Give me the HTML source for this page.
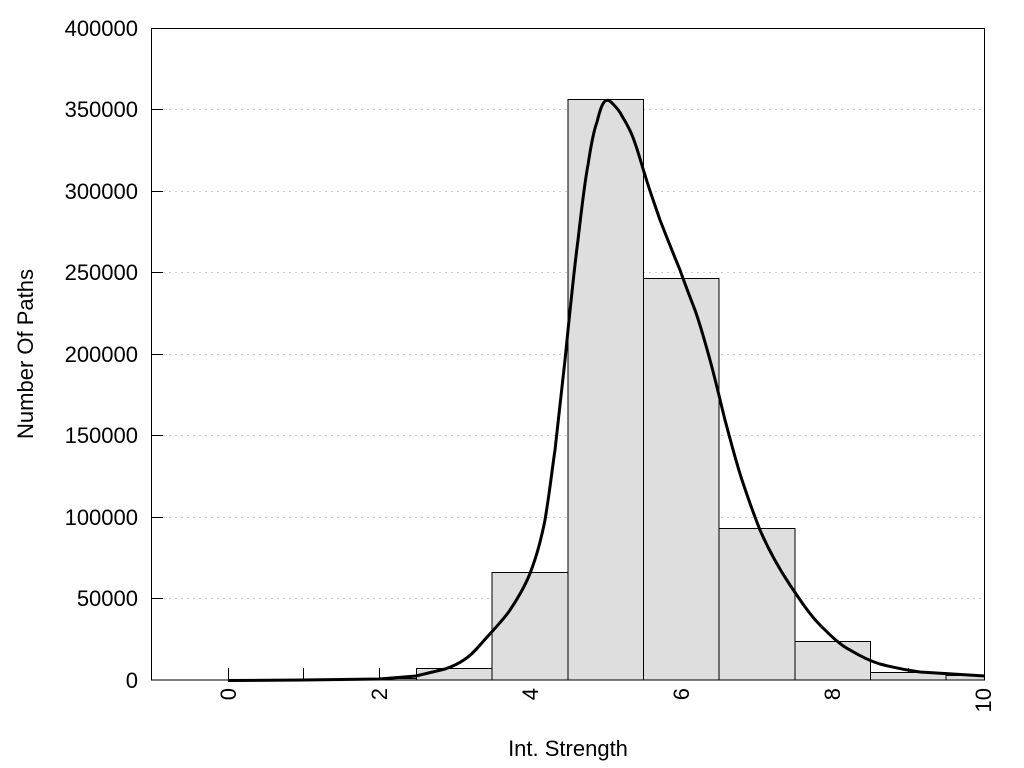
<!DOCTYPE html>
<html><head><meta charset="utf-8"><style>body{margin:0;background:#fff}svg{display:block}text{font-family:"Liberation Sans",Arial,sans-serif;font-size:22px;fill:#000}</style></head>
<body>
<svg width="1024" height="768" viewBox="0 0 1024 768">
<rect width="1024" height="768" fill="#fff"/>
<g stroke="#ccc" stroke-dasharray="2,4" stroke-width="1">
<line x1="163" y1="598.5" x2="985" y2="598.5"/>
<line x1="163" y1="517.5" x2="985" y2="517.5"/>
<line x1="163" y1="435.5" x2="985" y2="435.5"/>
<line x1="163" y1="354.5" x2="985" y2="354.5"/>
<line x1="163" y1="272.5" x2="985" y2="272.5"/>
<line x1="163" y1="191.5" x2="985" y2="191.5"/>
<line x1="163" y1="109.5" x2="985" y2="109.5"/>
</g>
<g stroke="#000" stroke-width="1">
<line x1="228.5" y1="668" x2="228.5" y2="680"/><line x1="303.5" y1="668" x2="303.5" y2="680"/><line x1="379.5" y1="668" x2="379.5" y2="680"/><line x1="454.5" y1="668" x2="454.5" y2="680"/><line x1="530.5" y1="668" x2="530.5" y2="680"/><line x1="605.5" y1="668" x2="605.5" y2="680"/><line x1="681.5" y1="668" x2="681.5" y2="680"/><line x1="756.5" y1="668" x2="756.5" y2="680"/><line x1="832.5" y1="668" x2="832.5" y2="680"/><line x1="908.5" y1="668" x2="908.5" y2="680"/>
</g>
<g fill="#dedede" stroke="#000" stroke-width="1">
<rect x="379.5" y="678.5" width="37" height="1.5"/>
<rect x="416.5" y="668.5" width="75.5" height="11.5"/>
<rect x="492" y="572.5" width="76" height="107.5"/>
<rect x="568" y="99.5" width="75.5" height="580.5"/>
<rect x="643.5" y="278.5" width="75.5" height="401.5"/>
<rect x="719" y="528.5" width="76" height="151.5"/>
<rect x="795" y="641.5" width="75.5" height="38.5"/>
<rect x="870.5" y="672.5" width="75.5" height="7.5"/>
<rect x="946" y="675.5" width="38.5" height="4.5"/>
</g>
<path d="M228,680.5 L303,680 L379,679 L416,676 L445,669 C460,664 470,657 480,645 C495,628 505,618 510,610 C520,595 528,580 532,568 C538,552 542,535 545,520 C550,490 552,470 555,450 L565,360 C570,310 574,270 578,240 C582,205 585,180 588,165 C591,145 594,130 597,122 C600,110 602,104 605,101 C608,99 610,101 613,104 C617,108 620,112 622,116 C627,124 629,128 632,135 C638,150 641,163 645,175 C650,192 655,205 660,220 C667,238 673,253 680,270 C686,287 690,297 695,310 C701,327 705,342 710,360 C716,382 720,400 725,420 C731,442 736,462 742,480 C748,498 754,515 760,530 C770,553 780,570 790,585 C800,600 810,615 820,625 C830,635 840,645 850,650 C860,656 870,661 880,664 C895,668 905,670 920,672 L985,676" fill="none" stroke="#000" stroke-width="3"/>
<rect x="151.5" y="28.5" width="833" height="651.5" fill="none" stroke="#000" stroke-width="1"/>
<g stroke="#000" stroke-width="1">
<line x1="151" y1="598.5" x2="163" y2="598.5"/><line x1="151" y1="517.5" x2="163" y2="517.5"/><line x1="151" y1="435.5" x2="163" y2="435.5"/><line x1="151" y1="354.5" x2="163" y2="354.5"/><line x1="151" y1="272.5" x2="163" y2="272.5"/><line x1="151" y1="191.5" x2="163" y2="191.5"/><line x1="151" y1="109.5" x2="163" y2="109.5"/>
</g>
<g text-anchor="end">
<text x="138" y="688">0</text><text x="138" y="606">50000</text><text x="138" y="525">100000</text><text x="138" y="443">150000</text><text x="138" y="362">200000</text><text x="138" y="280">250000</text><text x="138" y="199">300000</text><text x="138" y="117">350000</text><text x="138" y="36">400000</text>
</g>
<g text-anchor="end">
<text transform="translate(236,688) rotate(-90)">0</text>
<text transform="translate(387,688) rotate(-90)">2</text>
<text transform="translate(538,688) rotate(-90)">4</text>
<text transform="translate(689,688) rotate(-90)">6</text>
<text transform="translate(840,688) rotate(-90)">8</text>
<text transform="translate(991,688) rotate(-90)">10</text>
</g>
<text x="568" y="756" text-anchor="middle">Int. Strength</text>
<text transform="translate(33,354) rotate(-90)" text-anchor="middle">Number Of Paths</text>
</svg>
</body></html>
